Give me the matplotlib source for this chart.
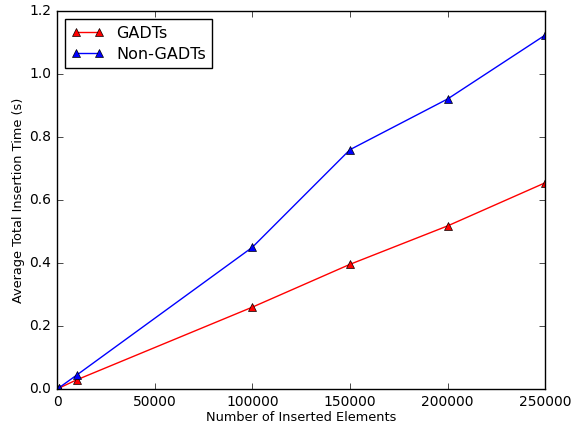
import matplotlib
matplotlib.use("Agg")
import matplotlib.pyplot as plt

plt.style.use("classic")

# data
n_elements = [1000, 10000, 100000, 150000, 200000, 250000]
gadts = [0.003, 0.029, 0.260, 0.396, 0.518, 0.655]
non_gadts = [0.004, 0.044, 0.450, 0.760, 0.921, 1.124]

fig = plt.figure(figsize=(5.73, 4.28), dpi=100, facecolor="white")
ax = fig.add_axes([0.0995, 0.091, 0.852, 0.883])

ax.plot(n_elements, gadts, color="red", marker="^", markerfacecolor="red",
        markersize=6, label="GADTs")
ax.plot(n_elements, non_gadts, color="blue", marker="^", markerfacecolor="blue",
        markersize=6, label="Non-GADTs")

ax.set_xlim(0, 250000)
ax.set_ylim(0, 1.2)
ax.set_xticks([0, 50000, 100000, 150000, 200000, 250000])
ax.set_yticks([0.0, 0.2, 0.4, 0.6, 0.8, 1.0, 1.2])
ax.ticklabel_format(style="plain", axis="x", useOffset=False)
ax.tick_params(labelsize=10)
ax.set_xlabel("Number of Inserted Elements", fontsize=9.3, labelpad=2)
ax.set_ylabel("Average Total Insertion Time (s)", fontsize=9.3, labelpad=3)
ax.legend(loc="upper left", fontsize=11.5, numpoints=2, labelspacing=0.4,
          borderaxespad=0.5)

fig.savefig("out.png", dpi=100, facecolor="white")
